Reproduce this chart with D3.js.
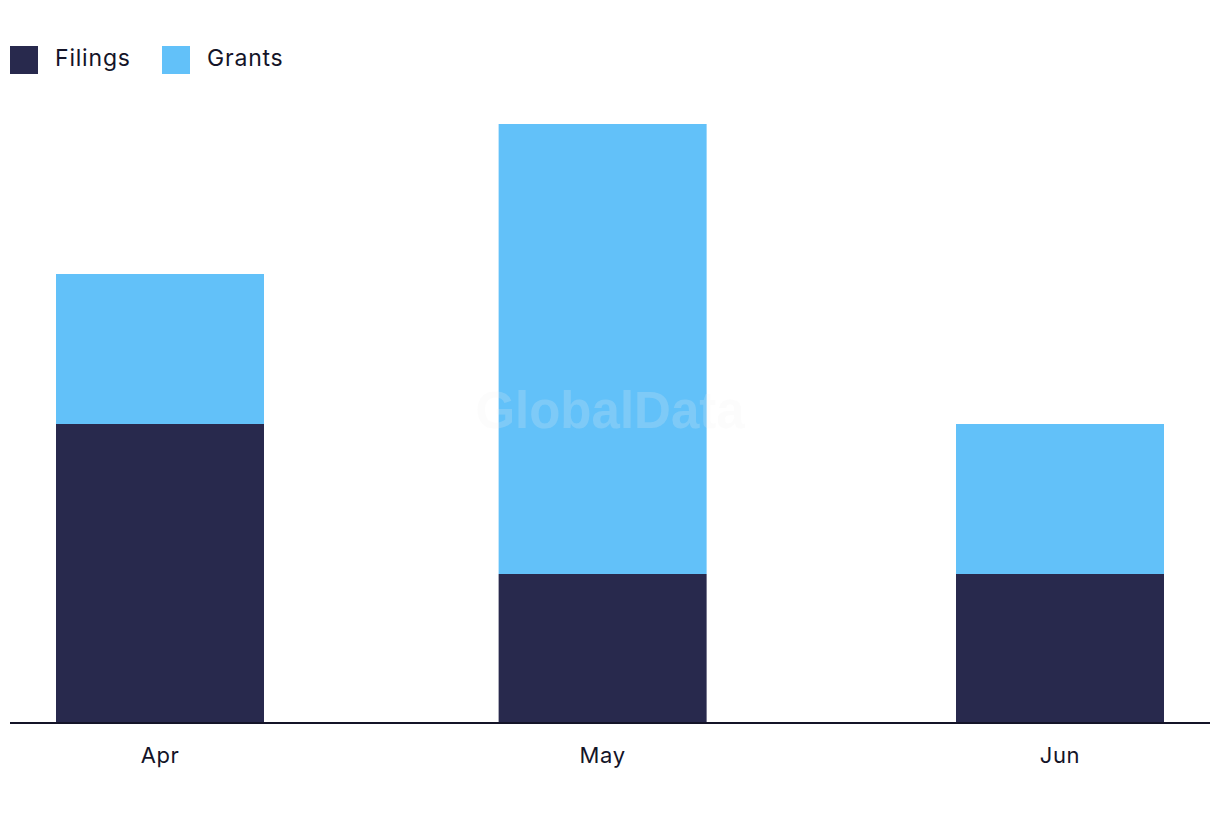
<!DOCTYPE html>
<html><head><meta charset="utf-8">
<script src="https://cdn.jsdelivr.net/npm/d3@7/dist/d3.min.js"></script>
<style>body{margin:0;background:#fff;}svg{display:block;font-family:Inter,"Open Sans",sans-serif;}</style>
</head><body>
<svg id="c" width="1220" height="822"></svg>
<script>
const categories = ["Apr", "May", "Jun"];
const months = ["2023-04-01", "2023-05-01", "2023-06-01"];
const seriesNames = ["Filings", "Grants"];
const filings = [2, 1, 1];
const grants = [1, 3, 1];
const colors = ["#28294d", "#62c1f9"];

const svg = d3.select("#c");
const baseY = 724, topY = 124, barW = 208;
const parse = d3.timeParse("%Y-%m-%d");
const dates = months.map(parse);
const x = d3.scaleTime().domain([dates[0], dates[2]]).range([160, 1060]);
const y = d3.scaleLinear().domain([0, 4]).range([baseY, topY]);

const rows = categories.map((c, i) => ({cat: c, date: dates[i], Filings: filings[i], Grants: grants[i]}));
const stack = d3.stack().keys(seriesNames)(rows);

svg.append("g").selectAll("g").data(stack).join("g").attr("fill", (d, i) => colors[i])
  .selectAll("rect").data(d => d).join("rect")
  .attr("x", d => x(d.data.date) - barW / 2).attr("width", barW)
  .attr("y", d => y(d[1])).attr("height", d => y(d[0]) - y(d[1]));

// watermark
svg.append("text").attr("x", 610).attr("y", 428).attr("text-anchor", "middle")
  .style("font-family", "'Liberation Sans', Arial, sans-serif").style("font-weight", "bold")
  .style("font-size", "51px").attr("fill", "#f0f0f0").attr("fill-opacity", 0.2).text("GlobalData");

// axis
svg.append("line").attr("x1", 10).attr("x2", 1210).attr("y1", baseY - 1).attr("y2", baseY - 1)
  .attr("stroke", "#141428").attr("stroke-width", 2);
svg.append("g").selectAll("text").data(rows).join("text")
  .attr("x", d => x(d.date)).attr("y", 763).attr("text-anchor", "middle")
  .style("font-size", "22px").style("letter-spacing", "0.6px").attr("fill", "#141428").text(d => d.cat);

// legend
const leg = svg.append("g");
const legX = [10, 162];
seriesNames.forEach((s, i) => {
  leg.append("rect").attr("x", legX[i]).attr("y", 46).attr("width", 28).attr("height", 28).attr("fill", colors[i]);
  leg.append("text").attr("x", legX[i] + 45).attr("y", 66).style("font-size", "23px").style("letter-spacing", "0.8px")
    .attr("fill", "#141428").text(s);
});
</script>
</body></html>
